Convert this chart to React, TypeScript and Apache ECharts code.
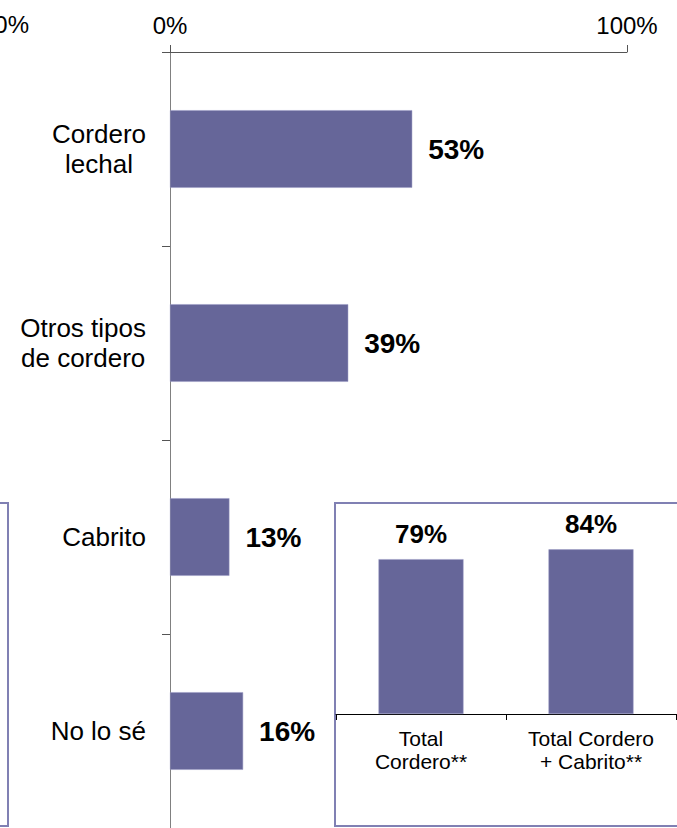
import React, { useEffect, useRef } from "react";
import * as echarts from "echarts";

const categories = ["Cordero\nlechal", "Otros tipos\nde cordero", "Cabrito", "No lo sé"];
const values = [53, 39, 13, 16];
const insetCategories = ["Total\nCordero**", "Total Cordero\n+ Cabrito**"];
const insetValues = [79, 84];
const leftCutLabel = "100%";

const BAR = "#666699";
const BOX = "#8080b3";
const FONT = "Liberation Sans, Arial, sans-serif";

export default function App() {
  const ref = useRef<HTMLDivElement>(null);
  useEffect(() => {
    if (!ref.current) return;
    const chart = echarts.init(ref.current, undefined, { renderer: "svg" });
    const centerLines = (v: string) =>
      v.split("\n").map((l) => `{c|${l}}`).join("\n");
    chart.setOption({
      animation: false,
      textStyle: { fontFamily: FONT },
      grid: [
        { left: 170, top: 52, width: 457, height: 780 },
        { left: 336, top: 518, width: 340, height: 196 },
      ],
      xAxis: [
        {
          gridIndex: 0,
          type: "value",
          position: "top",
          min: 0,
          max: 100,
          interval: 100,
          splitLine: { show: false },
          axisLine: { show: true, lineStyle: { color: "#555", width: 1 } },
          axisTick: { show: true, length: 7, lineStyle: { color: "#555" } },
          axisLabel: {
            formatter: "{value}%",
            fontSize: 24,
            color: "#000",
            margin: 15,
            fontFamily: FONT,
          },
        },
        {
          gridIndex: 1,
          type: "category",
          data: insetCategories,
          axisLine: { show: true, lineStyle: { color: "#000", width: 1 } },
          axisTick: { show: true, length: 6, lineStyle: { color: "#000" } },
          axisLabel: {
            fontSize: 21,
            lineHeight: 23,
            color: "#000",
            margin: 13,
            fontFamily: FONT,
            interval: 0,
          },
        },
      ],
      yAxis: [
        {
          gridIndex: 0,
          type: "category",
          inverse: true,
          data: categories,
          axisLine: { show: true, lineStyle: { color: "#808080", width: 1 } },
          axisTick: { show: true, length: 8, lineStyle: { color: "#555" } },
          axisLabel: {
            margin: 24,
            formatter: centerLines,
            rich: {
              c: {
                align: "center",
                fontSize: 26,
                lineHeight: 30,
                color: "#000",
                fontFamily: FONT,
              },
            },
          },
        },
        {
          gridIndex: 1,
          type: "value",
          min: 0,
          max: 100,
          show: false,
          splitLine: { show: false },
        },
      ],
      series: [
        {
          type: "bar",
          xAxisIndex: 0,
          yAxisIndex: 0,
          data: values,
          barWidth: "40%",
          itemStyle: { color: BAR, borderColor: "#9a9ac4", borderWidth: 0.5 },
          label: {
            show: true,
            position: "right",
            distance: 16,
            formatter: "{c}%",
            fontSize: 28,
            fontWeight: "bold",
            color: "#000",
            fontFamily: FONT,
          },
        },
        {
          type: "bar",
          xAxisIndex: 1,
          yAxisIndex: 1,
          data: insetValues,
          barWidth: "50%",
          itemStyle: { color: BAR, borderColor: "#9a9ac4", borderWidth: 0.5 },
          label: {
            show: true,
            position: "top",
            distance: 12,
            formatter: "{c}%",
            fontSize: 26,
            fontWeight: "bold",
            color: "#000",
            fontFamily: FONT,
          },
        },
      ],
      graphic: [
        {
          type: "rect",
          shape: { x: 335, y: 503, width: 400, height: 323 },
          style: { fill: "none", stroke: BOX, lineWidth: 2 },
          silent: true,
        },
        {
          type: "rect",
          shape: { x: -20, y: 503, width: 28, height: 323 },
          style: { fill: "none", stroke: BOX, lineWidth: 2 },
          silent: true,
        },
        {
          type: "text",
          x: 29,
          y: 24,
          style: {
            text: leftCutLabel,
            font: `24px ${FONT}`,
            fill: "#000",
            align: "right",
            verticalAlign: "middle",
          },
          silent: true,
        },
      ],
    });
    return () => chart.dispose();
  }, []);
  return (
    <div
      ref={ref}
      style={{ position: "absolute", left: 0, top: 0, width: 677, height: 828 }}
    />
  );
}
